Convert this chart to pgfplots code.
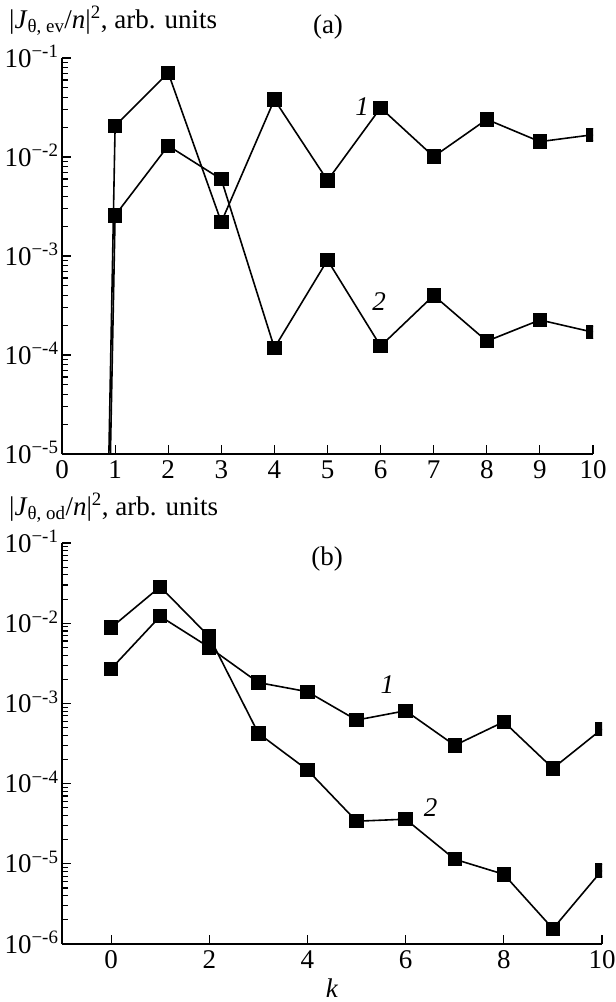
\documentclass[border=0pt]{standalone}
\usepackage{fontspec}
\setmainfont{Liberation Serif}
\usepackage{pgfplots}
\pgfplotsset{compat=1.18}
\newcommand\fs{\fontsize{27}{32}\selectfont}
\begin{document}
\begin{tikzpicture}[font=\fs]
\useasboundingbox (0,0) rectangle (616pt,-1002pt);
% ---------------- (a)
\begin{semilogyaxis}[
  scale only axis,
  at={(62pt,-454pt)}, anchor=south west,
  width=531pt, height=396pt,
  xmin=0, xmax=10, ymin=1e-5, ymax=1e-1,
  xtick={0,1,...,10},
  ytick={1e-5,1e-4,1e-3,1e-2,1e-1},
  minor ytick={2e-5,3e-5,4e-5,5e-5,6e-5,7e-5,8e-5,9e-5,2e-4,3e-4,4e-4,5e-4,6e-4,7e-4,8e-4,9e-4,2e-3,3e-3,4e-3,5e-3,6e-3,7e-3,8e-3,9e-3,2e-2,3e-2,4e-2,5e-2,6e-2,7e-2,8e-2,9e-2},
  axis x line*=bottom, axis y line*=left,
  axis line style={-, line width=1.3pt},
  tick align=inside,
  major tick length=9pt, minor tick length=6pt,
  tick style={black, line width=1.1pt},
  yticklabel={10\textsuperscript{−\pgfmathprintnumber[fixed,precision=0]{\tick}}},
  log basis y=10,
  /pgf/number format/assume math mode=true,
  tick label style={font=\fs},
  yticklabel style={anchor=base east, yshift=-9pt},
  xticklabel style={yshift=-3pt},
  clip marker paths=true,
]
\addplot[black, line width=1.6pt, mark=square*, mark size=6.4pt] coordinates {(0,1e-30) (1,0.0206) (2,0.071) (3,0.0022) (4,0.038) (5,0.0058) (6,0.0314) (7,0.0101) (8,0.024) (9,0.0143) (10,0.0168)};
\addplot[black, line width=1.6pt, mark=square*, mark size=6.4pt] coordinates {(0,1e-30) (1,0.00257) (2,0.013) (3,0.00596) (4,0.000118) (5,0.00091) (6,0.000123) (7,0.0004) (8,0.000138) (9,0.000226) (10,0.00017)};
\node[font=\fs\itshape] at (axis cs:5.65,0.032) {1};
\node[font=\fs\itshape] at (axis cs:5.97,3.43e-4) {2};
\end{semilogyaxis}
% ---------------- (b)
\begin{semilogyaxis}[
  scale only axis,
  at={(62pt,-944pt)}, anchor=south west,
  width=540pt, height=401pt,
  xmin=-1, xmax=10, ymin=1e-6, ymax=1e-1,
  xtick={0,2,...,10},
  ytick={1e-6,1e-5,1e-4,1e-3,1e-2,1e-1},
  minor ytick={2e-6,3e-6,4e-6,5e-6,6e-6,7e-6,8e-6,9e-6,2e-5,3e-5,4e-5,5e-5,6e-5,7e-5,8e-5,9e-5,2e-4,3e-4,4e-4,5e-4,6e-4,7e-4,8e-4,9e-4,2e-3,3e-3,4e-3,5e-3,6e-3,7e-3,8e-3,9e-3,2e-2,3e-2,4e-2,5e-2,6e-2,7e-2,8e-2,9e-2},
  axis x line*=bottom, axis y line*=left,
  axis line style={-, line width=1.3pt},
  tick align=inside,
  major tick length=9pt, minor tick length=6pt,
  tick style={black, line width=1.1pt},
  yticklabel={10\textsuperscript{−\pgfmathprintnumber[fixed,precision=0]{\tick}}},
  log basis y=10,
  /pgf/number format/assume math mode=true,
  tick label style={font=\fs},
  yticklabel style={anchor=base east, yshift=-9pt},
  xticklabel style={yshift=-3pt},
  clip marker paths=true,
  xlabel={\textit{k}},
  every axis x label/.style={at={(axis description cs:0.5,0)}, anchor=base, yshift=-53pt},
]
\addplot[black, line width=1.6pt, mark=square*, mark size=6.4pt] coordinates {(0,0.0027) (1,0.0122) (2,0.0050) (3,0.00182) (4,0.0014) (5,0.00062) (6,0.00081) (7,0.0003) (8,0.00059) (9,0.000155) (10,0.00048)};
\addplot[black, line width=1.6pt, mark=square*, mark size=6.4pt] coordinates {(0,0.0088) (1,0.0285) (2,0.0068) (3,0.000424) (4,0.000148) (5,3.4e-5) (6,3.6e-5) (7,1.14e-5) (8,7.4e-6) (9,1.55e-6) (10,8.3e-6)};
\node[font=\fs\itshape] at (axis cs:5.63,1.7e-3) {1};
\node[font=\fs\itshape] at (axis cs:6.51,5.1e-5) {2};
\end{semilogyaxis}
% titles
\node[anchor=base west, inner sep=0pt] at (9pt,-28pt) {|\textit{J}\textsubscript{θ, ev}/\textit{n}|\textsuperscript{2}, arb. units};
\node[anchor=base, inner sep=0pt] at (328pt,-33pt) {(a)};
\node[anchor=base west, inner sep=0pt] at (9pt,-515pt) {|\textit{J}\textsubscript{θ, od}/\textit{n}|\textsuperscript{2}, arb. units};
\node[anchor=base, inner sep=0pt] at (327pt,-565pt) {(b)};
\end{tikzpicture}
\end{document}
